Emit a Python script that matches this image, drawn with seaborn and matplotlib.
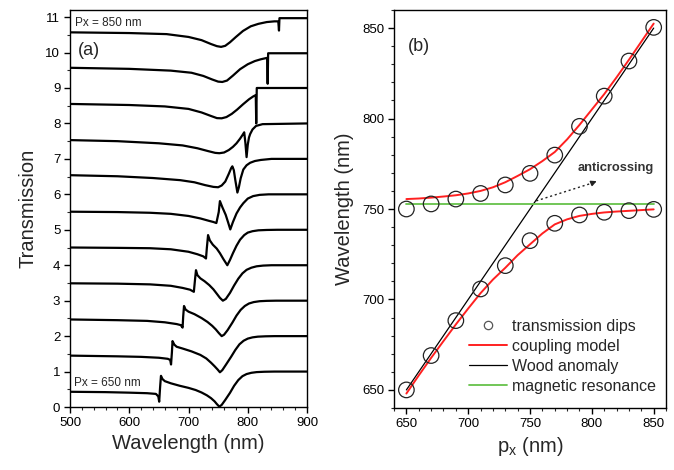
import numpy as np
import matplotlib
matplotlib.use("Agg")
import matplotlib.pyplot as plt
from matplotlib.lines import Line2D
from matplotlib.ticker import MultipleLocator
import seaborn as sns

# grating periods of the stacked spectra in panel (a), bottom to top
periods = [650, 670, 690, 710, 730, 750, 770, 790, 810, 830, 850]

# spectra: wavelength (nm) and transmission (before stacking offset)
wl_650 = [500, 560, 600, 630, 645, 649, 650.5, 652, 653.5, 656, 660, 670, 685, 700, 712, 722, 731, 738, 744, 748, 752, 756, 762, 770, 777, 784, 791, 798, 806, 815, 828, 845, 900]
tr_650 = [0.43, 0.42, 0.405, 0.39, 0.37, 0.30, 0.15, 0.55, 0.88, 0.79, 0.73, 0.67, 0.60, 0.54, 0.48, 0.41, 0.33, 0.25, 0.16, 0.08, 0.01, 0.06, 0.20, 0.40, 0.60, 0.76, 0.87, 0.93, 0.965, 0.985, 0.995, 1.0, 1.0]
wl_670 = [500, 580, 620, 650, 665, 669, 670.5, 672, 673, 676, 680, 690, 705, 720, 730, 738, 744, 749, 753, 757, 763, 772, 779, 786, 793, 800, 808, 817, 830, 845, 900]
tr_670 = [0.45, 0.43, 0.415, 0.39, 0.36, 0.33, 0.20, 0.55, 0.86, 0.76, 0.70, 0.65, 0.57, 0.47, 0.37, 0.25, 0.15, 0.06, -0.02, 0.04, 0.19, 0.42, 0.61, 0.77, 0.87, 0.93, 0.965, 0.985, 0.995, 1.0, 1.0]
wl_690 = [500, 580, 630, 660, 680, 687, 690, 691, 692.4, 695, 700, 710, 722, 732, 740, 746, 751, 756, 760, 766, 774, 781, 788, 795, 802, 810, 820, 832, 848, 900]
tr_690 = [0.47, 0.45, 0.43, 0.39, 0.34, 0.31, 0.24, 0.55, 0.85, 0.75, 0.69, 0.62, 0.51, 0.40, 0.29, 0.19, 0.09, 0.0, 0.04, 0.17, 0.38, 0.58, 0.74, 0.85, 0.92, 0.96, 0.985, 0.995, 1.0, 1.0]
wl_710 = [500, 580, 635, 670, 690, 702.5, 709, 711, 712.6, 715, 720, 727, 735, 742, 748, 753, 758, 763, 770, 777, 784, 791, 798, 806, 815, 826, 840, 900]
tr_710 = [0.49, 0.48, 0.46, 0.42, 0.36, 0.31, 0.25, 0.60, 0.86, 0.72, 0.63, 0.55, 0.44, 0.32, 0.19, 0.08, 0.0, 0.05, 0.22, 0.43, 0.62, 0.77, 0.87, 0.93, 0.97, 0.99, 1.0, 1.0]
wl_730 = [500, 580, 635, 670, 700, 715, 725, 729.5, 731, 733, 736, 741, 747.6, 753, 759, 765.5, 770, 775, 781, 787, 794, 800, 808, 818, 832, 850, 900]
tr_730 = [0.50, 0.49, 0.48, 0.45, 0.38, 0.31, 0.25, 0.19, 0.50, 0.85, 0.70, 0.58, 0.47, 0.34, 0.17, 0.0, 0.15, 0.34, 0.55, 0.72, 0.85, 0.92, 0.96, 0.985, 0.995, 1.0, 1.0]
wl_750 = [500, 580, 635, 670, 700, 720, 735, 742, 747, 751, 753, 757, 762.8, 767, 770.5, 775, 781, 787, 792.5, 800, 809, 820, 835, 900]
tr_750 = [0.51, 0.50, 0.48, 0.45, 0.39, 0.32, 0.25, 0.22, 0.19, 0.50, 0.81, 0.64, 0.42, 0.20, 0.01, 0.22, 0.46, 0.63, 0.75, 0.88, 0.95, 0.985, 1.0, 1.0]
wl_770 = [500, 580, 640, 686, 710, 728, 742, 750, 756, 762, 768, 772, 774, 776.5, 779, 782.5, 785, 788, 792.5, 798, 804, 812, 822, 840, 900]
tr_770 = [0.54, 0.51, 0.46, 0.40, 0.34, 0.26, 0.21, 0.20, 0.25, 0.36, 0.58, 0.74, 0.79, 0.68, 0.40, 0.05, 0.20, 0.45, 0.70, 0.82, 0.89, 0.94, 0.97, 1.0, 1.0]
wl_790 = [500, 580, 650, 690, 715, 733, 745, 752, 760, 768, 775, 781, 787, 791, 794, 796, 798, 800, 802, 804, 808, 814, 825, 900]
tr_790 = [0.53, 0.50, 0.44, 0.38, 0.30, 0.22, 0.17, 0.16, 0.18, 0.25, 0.34, 0.44, 0.57, 0.67, 0.75, 0.45, 0.05, 0.40, 0.60, 0.70, 0.83, 0.93, 0.98, 1.0]
wl_810 = [500, 600, 660, 700, 722, 738, 748, 756, 764, 773, 782, 792, 802, 809, 813.5, 814.3, 815.2, 900]
tr_810 = [0.55, 0.52, 0.48, 0.41, 0.31, 0.21, 0.15, 0.145, 0.18, 0.27, 0.39, 0.54, 0.68, 0.76, 0.80, 0.0, 1.0, 1.0]
wl_830 = [500, 600, 670, 705, 725, 740, 750, 757, 765, 775, 787, 800, 812, 822, 830, 832.8, 833.6, 834.4, 900]
tr_830 = [0.57, 0.54, 0.49, 0.43, 0.34, 0.24, 0.18, 0.17, 0.21, 0.35, 0.53, 0.67, 0.76, 0.81, 0.84, 0.85, 0.12, 0.98, 0.98]
wl_850 = [500, 600, 663, 700, 722, 738, 748, 755, 762, 770, 780, 792, 805, 818, 832, 845, 851.5, 852.7, 853.5, 900]
tr_850 = [0.57, 0.55, 0.52, 0.44, 0.35, 0.24, 0.18, 0.16, 0.19, 0.29, 0.44, 0.61, 0.74, 0.81, 0.86, 0.88, 0.88, 0.62, 0.97, 0.97]

spectra = [(wl_650, tr_650), (wl_670, tr_670), (wl_690, tr_690), (wl_710, tr_710),
           (wl_730, tr_730), (wl_750, tr_750), (wl_770, tr_770), (wl_790, tr_790),
           (wl_810, tr_810), (wl_830, tr_830), (wl_850, tr_850)]

# panel (b): measured dips
px_dips = [650, 670, 690, 710, 730, 750, 770, 790, 810, 830, 850]
dip_upper = [750, 752.8, 755.5, 758.6, 763.3, 769.7, 779.8, 795.7, 812.4, 831.8, 850.4]
dip_lower = [650, 669, 688.3, 705.8, 718.7, 732.5, 742.1, 746.7, 748.2, 749.1, 749.8]

# coupling model branches
px_model = [650, 660, 670, 680, 690, 700, 710, 720, 730, 740, 750, 760, 770, 780, 790, 800, 810, 820, 830, 840, 850]
model_upper = [755.5, 755.8, 756.3, 756.9, 757.6, 758.6, 760.0, 762.0, 764.8, 768.3, 772.0, 776.5, 781.5, 788.5, 796.5, 805.0, 813.5, 822.8, 832.5, 842.5, 852.5]
model_lower = [648, 658, 667.7, 677, 686.2, 695, 703.5, 711, 717.5, 724.5, 730.5, 736.5, 741.5, 744.3, 746.2, 747.3, 748.1, 748.6, 749.0, 749.4, 749.8]

# Wood anomaly and magnetic resonance
px_wood = [650, 850]
wl_wood = [650, 850]
px_mr = [650, 850]
wl_mr = [753, 753]

sns.set_theme(style="ticks")
plt.rcParams['font.family'] = ['Liberation Sans', 'DejaVu Sans']
plt.rcParams['mathtext.fontset'] = 'custom'
plt.rcParams['mathtext.rm'] = 'Liberation Sans'
plt.rcParams['axes.linewidth'] = 1.0
plt.rcParams['axes.edgecolor'] = 'black'
plt.rcParams['lines.solid_joinstyle'] = 'round'

fig = plt.figure(figsize=(6.74, 4.70), dpi=100)
ax1 = fig.add_axes([0.1039, 0.134, 0.3516, 0.8447])
ax2 = fig.add_axes([0.5846, 0.1319, 0.4036, 0.8468])

# ---- panel (a)
for i, (wl, tr) in enumerate(spectra):
    sns.lineplot(x=wl, y=np.array(tr) + i, ax=ax1, color='black', lw=1.6, estimator=None)

ax1.set_xlim(500, 900)
ax1.set_ylim(0, 11.2)
ax1.xaxis.set_major_locator(MultipleLocator(100))
ax1.xaxis.set_minor_locator(MultipleLocator(20))
ax1.yaxis.set_major_locator(MultipleLocator(1))
ax1.yaxis.set_minor_locator(MultipleLocator(0.5))
ax1.set_xlabel('Wavelength (nm)', fontsize=14.5, labelpad=4)
ax1.set_ylabel('Transmission', fontsize=14.5, labelpad=6)
ax1.text(513, 10.07, '(a)', fontsize=13, va='center')
ax1.text(508, 10.84, 'Px = 850 nm', fontsize=8.5, va='center')
ax1.text(507, 0.69, 'Px = 650 nm', fontsize=8.5, va='center')

# ---- panel (b)
green = '#66c24a'
sns.lineplot(x=px_wood, y=wl_wood, ax=ax2, color='black', lw=0.9)
sns.lineplot(x=px_mr, y=wl_mr, ax=ax2, color=green, lw=1.3)
sns.lineplot(x=px_model, y=model_upper, ax=ax2, color='#ff2020', lw=1.4)
sns.lineplot(x=px_model, y=model_lower, ax=ax2, color='#ff2020', lw=1.4)
sns.scatterplot(x=px_dips + px_dips, y=dip_upper + dip_lower, ax=ax2, marker='o', s=125,
                facecolor='none', edgecolor='#222222', linewidth=0.9, zorder=3)

ax2.plot([755, 801], [754.5, 764.5], ls=(0, (1.5, 2)), color='#222222', lw=1)
ax2.annotate('', xy=(806, 766), xytext=(800, 764.3),
             arrowprops=dict(arrowstyle='-|>', color='#222222', lw=1, mutation_scale=8))
ax2.text(819, 772.5, 'anticrossing', fontsize=9.3, fontweight='bold', ha='center', va='center', color='#333333')
ax2.text(651, 840, '(b)', fontsize=13, va='center')

ax2.set_xlim(640, 860)
ax2.set_ylim(640, 860)
ax2.xaxis.set_major_locator(MultipleLocator(50))
ax2.xaxis.set_minor_locator(MultipleLocator(10))
ax2.yaxis.set_major_locator(MultipleLocator(50))
ax2.yaxis.set_minor_locator(MultipleLocator(10))
ax2.set_xlabel('$\\mathregular{p_x}$ (nm)', fontsize=14.5, labelpad=4)
ax2.set_ylabel('Wavelength (nm)', fontsize=14.5, labelpad=6)

handles = [Line2D([], [], marker='o', ls='none', mfc='none', mec='#555555', ms=6, mew=0.9),
           Line2D([], [], color='#ff2020', lw=1.4),
           Line2D([], [], color='black', lw=0.9),
           Line2D([], [], color=green, lw=1.3)]
labels = ['transmission dips', 'coupling model', 'Wood anomaly', 'magnetic resonance']
ax2.legend(handles, labels, loc='upper left', bbox_to_anchor=(0.696, 0.322),
           bbox_transform=fig.transFigure, frameon=False, fontsize=11.5,
           borderpad=0, borderaxespad=0, handlelength=2.4, handletextpad=0.3, labelspacing=0.32)

for ax in (ax1, ax2):
    ax.tick_params(which='major', direction='out', length=4, width=1, labelsize=9.5, pad=3, colors='black')
    ax.tick_params(which='minor', direction='out', length=2.5, width=0.8)
    ax.tick_params(left=True, bottom=True, top=False, right=False)
    for s in ax.spines.values():
        s.set_visible(True)
        s.set_color('black')

fig.savefig('out.png', dpi=100)
